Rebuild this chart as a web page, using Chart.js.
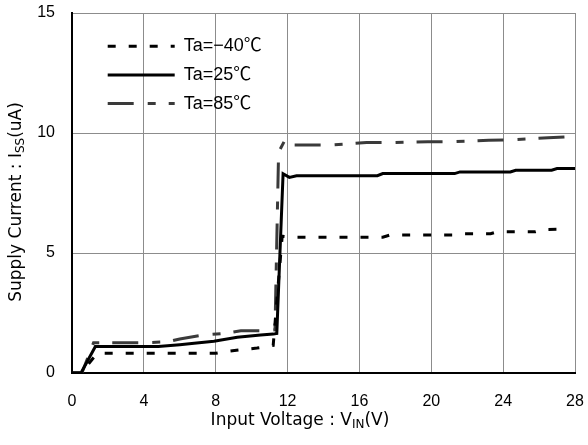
<!DOCTYPE html>
<html>
<head>
<meta charset="utf-8">
<script src="https://cdn.jsdelivr.net/npm/chart.js@4.4.1/dist/chart.umd.min.js"></script>
<style>
  html, body { margin: 0; padding: 0; background: #fff; }
</style>
</head>
<body>
<canvas id="chart" width="588" height="445"></canvas>
<script>
const FONT = "'Liberation Sans', 'Noto Sans CJK JP', sans-serif";
const TITLE_FONT = "'DejaVu Sans', 'Noto Sans CJK JP', sans-serif";

// Ta=-40C
const xCold = [0, 0.5, 1.4, 8.0, 8.6, 9.3, 10.3, 11.0, 11.2, 11.7, 12.2, 17.3, 17.7, 21.4, 21.8, 23.3, 23.7, 25.8, 26.2, 27.4];
const yCold = [0, 0, 0.82, 0.82, 0.9, 0.96, 1.04, 1.12, 1.15, 5.7, 5.66, 5.66, 5.75, 5.75, 5.8, 5.8, 5.89, 5.89, 5.98, 5.99];

// Ta=25C
const xRoom = [0, 0.5, 1.3, 4.8, 6.0, 6.8, 7.9, 9.2, 10.5, 11.2, 11.4, 11.75, 12.1, 12.5, 17.0, 17.3, 21.3, 21.6, 24.4, 24.7, 26.7, 27.0, 28];
const yRoom = [0, 0, 1.1, 1.1, 1.18, 1.24, 1.32, 1.49, 1.58, 1.62, 1.65, 8.3, 8.15, 8.22, 8.22, 8.31, 8.31, 8.38, 8.38, 8.45, 8.45, 8.52, 8.52];

// Ta=85C
const xHot = [0, 0.55, 1.2, 4.0, 5.3, 6.0, 7.3, 8.5, 9.4, 10.8, 11.3, 11.5, 11.85, 12.3, 14.4, 16.4, 17.8, 19.8, 21.2, 23.2, 24.6, 26.5, 27.7, 28];
const yHot = [0, 0, 1.26, 1.26, 1.3, 1.42, 1.58, 1.65, 1.76, 1.76, 1.8, 9.2, 9.7, 9.5, 9.5, 9.6, 9.6, 9.64, 9.64, 9.7, 9.72, 9.8, 9.85, 9.92];

const seriesNames = ['Ta=\u221240\u2103', 'Ta=25\u2103', 'Ta=85\u2103'];
const xTicks = [0, 4, 8, 12, 16, 20, 24, 28];
const yTicks = [0, 5, 10, 15];

const toPoints = (xs, ys) => xs.map((x, i) => ({ x: x, y: ys[i] }));

// draw text with subscript parts, centred on 0,0 along the baseline
function drawRich(ctx, parts) {
  let w = 0;
  parts.forEach(p => {
    ctx.font = (p[1] ? 12 : 17) + 'px ' + TITLE_FONT;
    w += ctx.measureText(p[0]).width;
  });
  let x = -w / 2;
  parts.forEach(p => {
    ctx.font = (p[1] ? 12 : 17) + 'px ' + TITLE_FONT;
    ctx.fillText(p[0], x, p[1] ? 3 : 0);
    x += ctx.measureText(p[0]).width;
  });
}

const axisTitles = {
  id: 'axisTitles',
  afterLayout(chart) {
    // put the legend in the top-left corner of the plot
    const lg = chart.legend;
    lg.left = chart.chartArea.left + 25;
    lg.top = chart.chartArea.top + 13.5;
  },
  afterDraw(chart) {
    const ctx = chart.ctx;
    ctx.save();
    ctx.fillStyle = '#000';
    ctx.textAlign = 'left';
    ctx.textBaseline = 'alphabetic';
    ctx.translate(300, 425);
    drawRich(ctx, [['Input Voltage : V', false], ['IN', true], ['(V)', false]]);
    ctx.restore();

    ctx.save();
    ctx.fillStyle = '#000';
    ctx.textAlign = 'left';
    ctx.textBaseline = 'alphabetic';
    ctx.translate(21, 202);
    ctx.rotate(-Math.PI / 2);
    drawRich(ctx, [['Supply Current : I', false], ['SS', true], ['(uA)', false]]);
    ctx.restore();
  }
};

new Chart(document.getElementById('chart'), {
  type: 'line',
  data: {
    datasets: [
      {
        label: seriesNames[0],
        data: toPoints(xCold, yCold),
        borderColor: '#000',
        borderWidth: 3,
        borderDash: [8, 13]
      },
      {
        label: seriesNames[1],
        data: toPoints(xRoom, yRoom),
        borderColor: '#000',
        borderWidth: 3,
        borderDash: []
      },
      {
        label: seriesNames[2],
        data: toPoints(xHot, yHot),
        borderColor: '#3a3a3a',
        borderWidth: 3,
        borderDash: [26, 14, 8, 13]
      }
    ]
  },
  options: {
    responsive: false,
    animation: false,
    layout: { padding: { top: 13, right: 13, left: 0, bottom: 0 } },
    elements: {
      point: { radius: 0 },
      line: { tension: 0, fill: false }
    },
    scales: {
      x: {
        type: 'linear',
        min: 0,
        max: 28,
        afterBuildTicks: s => { s.ticks = xTicks.map(v => ({ value: v })); },
        afterFit: s => { s.height = 72; s.paddingLeft = 0; s.paddingRight = 0; },
        grid: { color: '#8c8c8c', lineWidth: 1, drawTicks: false },
        border: { color: '#000', width: 2 },
        ticks: { padding: 19, color: '#000', font: { family: FONT, size: 16 } }
      },
      y: {
        min: 0,
        max: 15,
        afterBuildTicks: s => { s.ticks = yTicks.map(v => ({ value: v })); },
        afterFit: s => { s.width = 72; s.paddingTop = 0; s.paddingBottom = 0; },
        grid: { color: '#8c8c8c', lineWidth: 1, drawTicks: false },
        border: { color: '#000', width: 2 },
        ticks: { padding: 17, color: '#000', font: { family: FONT, size: 16 } }
      }
    },
    plugins: {
      tooltip: { enabled: false },
      legend: {
        position: 'chartArea',
        align: 'start',
        labels: {
          usePointStyle: true,
          pointStyle: 'line',
          pointStyleWidth: 67,
          padding: 10.7,
          color: '#000',
          font: { family: FONT, size: 18 },
          generateLabels(chart) {
            const items = Chart.defaults.plugins.legend.labels.generateLabels(chart);
            items.forEach(it => {
              const ds = chart.data.datasets[it.datasetIndex];
              it.lineDash = ds.borderDash;
              it.lineWidth = ds.borderWidth;
              it.strokeStyle = ds.borderColor;
            });
            return items;
          }
        }
      }
    }
  },
  plugins: [axisTitles]
});
</script>
</body>
</html>
